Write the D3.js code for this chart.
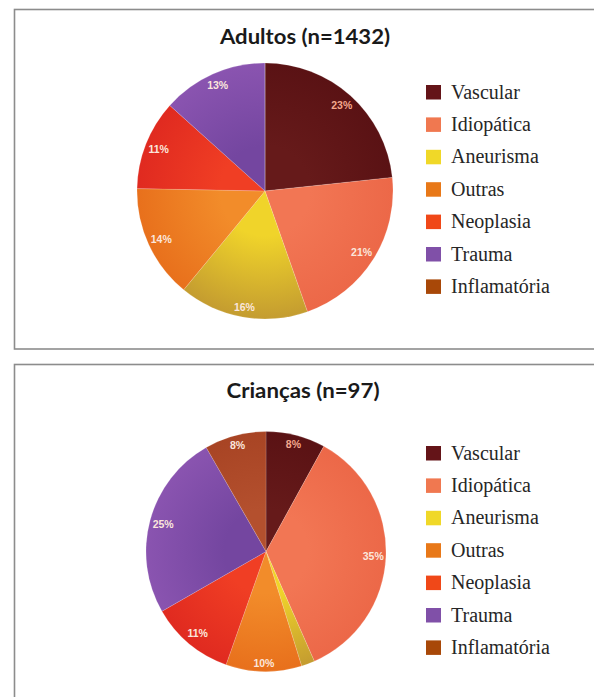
<!DOCTYPE html>
<html>
<head>
<meta charset="utf-8">
<script src="https://cdn.jsdelivr.net/npm/d3@7"></script>
<style>
  html, body { margin: 0; padding: 0; background: #ffffff; }
  svg { display: block; }
</style>
</head>
<body>
<svg id="chart" width="594" height="697"></svg>
<script>
// ---- data ----
const categories = ["Vascular", "Idiopática", "Aneurisma", "Outras", "Neoplasia", "Trauma", "Inflamatória"];
const adultValues = [23.4, 21.4, 16.4, 14.4, 11.4, 13.4, 0];
const childValues = [8.0, 35.4, 1.8, 10.2, 11.3, 25.0, 8.3];
const titles = ["Adultos (n=1432)", "Crianças (n=97)"];

// ---- styles ----
const legendColors = ["#641418", "#f07850", "#f0d828", "#e87818", "#f04818", "#8050a8", "#a84808"];
const sliceInner   = ["#661a1a", "#f27654", "#f0d42a", "#f28c2a", "#f03e24", "#7446a0", "#b4502e"];
const sliceOuter   = ["#5a1214", "#ec6848", "#c49c30", "#e8701c", "#e02a20", "#8a54b0", "#a84424"];

const svg = d3.select("#chart");
const defs = svg.append("defs");

const panels = [
  { values: adultValues, title: titles[0], frameY: 9.5, frameH: 339.5, cx: 265, cy: 191, r: 128,
    titleX: 305, titleY: 44, titleW: 170, legendTop: 85 },
  { values: childValues, title: titles[1], frameY: 364.5, frameH: 400, cx: 266, cy: 551.5, r: 120,
    titleX: 303, titleY: 398, titleW: 153, legendTop: 446 }
];

panels.forEach((p, pi) => {
  const g = svg.append("g");

  // frame
  g.append("rect")
    .attr("x", 14.5).attr("y", p.frameY)
    .attr("width", 620).attr("height", p.frameH)
    .attr("fill", "#ffffff")
    .attr("stroke", "#8c8c8c").attr("stroke-width", 1.6);

  // title
  g.append("text")
    .attr("x", p.titleX).attr("y", p.titleY)
    .attr("text-anchor", "middle")
    .attr("font-family", "Lato, 'Open Sans', sans-serif")
    .attr("font-weight", "bold")
    .attr("font-size", 20.5)
    .attr("fill", "#1a1a1a")
    .attr("textLength", p.titleW)
    .attr("lengthAdjust", "spacingAndGlyphs")
    .text(p.title);

  // gradients (centred on the pie's own coordinate origin)
  categories.forEach((c, i) => {
    const gr = defs.append("radialGradient")
      .attr("id", `grad${pi}_${i}`)
      .attr("gradientUnits", "userSpaceOnUse")
      .attr("cx", 0).attr("cy", 0).attr("r", p.r);
    gr.append("stop").attr("offset", "0%").attr("stop-color", sliceInner[i]);
    gr.append("stop").attr("offset", "35%").attr("stop-color", sliceInner[i]);
    gr.append("stop").attr("offset", "100%").attr("stop-color", sliceOuter[i]);
  });

  const pie = d3.pie().sort(null).value(d => d)(p.values);
  const arc = d3.arc().innerRadius(0).outerRadius(p.r);

  const pg = g.append("g").attr("transform", `translate(${p.cx},${p.cy})`);
  pg.selectAll("path.slice")
    .data(pie)
    .join("path")
    .attr("class", "slice")
    .attr("d", arc)
    .attr("fill", (d, i) => `url(#grad${pi}_${i})`)
    .attr("stroke", "rgba(255,255,255,0.25)")
    .attr("stroke-width", 0.6);

  // labels ("inside end")
  const fs = 10.5;
  pg.selectAll("text.lbl")
    .data(pie.filter(d => d.value >= 3))
    .join("text")
    .attr("class", "lbl")
    .each(function(d) {
      const a = (d.startAngle + d.endAngle) / 2;
      const sx = Math.sin(a), cy = -Math.cos(a);
      const txt = Math.round(d.value / d3.sum(p.values) * 100) + "%";
      const w = txt.length * fs * 0.6, h = fs;
      const ext = Math.abs(sx) * w / 2 + Math.abs(cy) * h / 2;
      const dist = p.r - 3 - ext;
      d3.select(this)
        .attr("x", sx * dist)
        .attr("y", cy * dist)
        .attr("dy", "0.36em")
        .attr("text-anchor", "middle")
        .attr("font-family", "'Liberation Sans', Arial, sans-serif")
        .attr("font-weight", "bold")
        .attr("font-size", fs)
        .attr("fill", d.index === 0 ? "#f4a88e" : "#fbe6dc")
        .text(txt);
    });

  // legend
  const lg = g.append("g");
  categories.forEach((c, i) => {
    const y = p.legendTop + i * 32.4;
    lg.append("rect")
      .attr("x", 426).attr("y", y)
      .attr("width", 15).attr("height", 14.5)
      .attr("fill", legendColors[i]);
    lg.append("text")
      .attr("x", 451).attr("y", y + 13.5)
      .attr("font-family", "'Liberation Serif', 'DejaVu Serif', serif")
      .attr("font-size", 20)
      .attr("fill", "#262626")
      .text(c);
  });
});
</script>
</body>
</html>
